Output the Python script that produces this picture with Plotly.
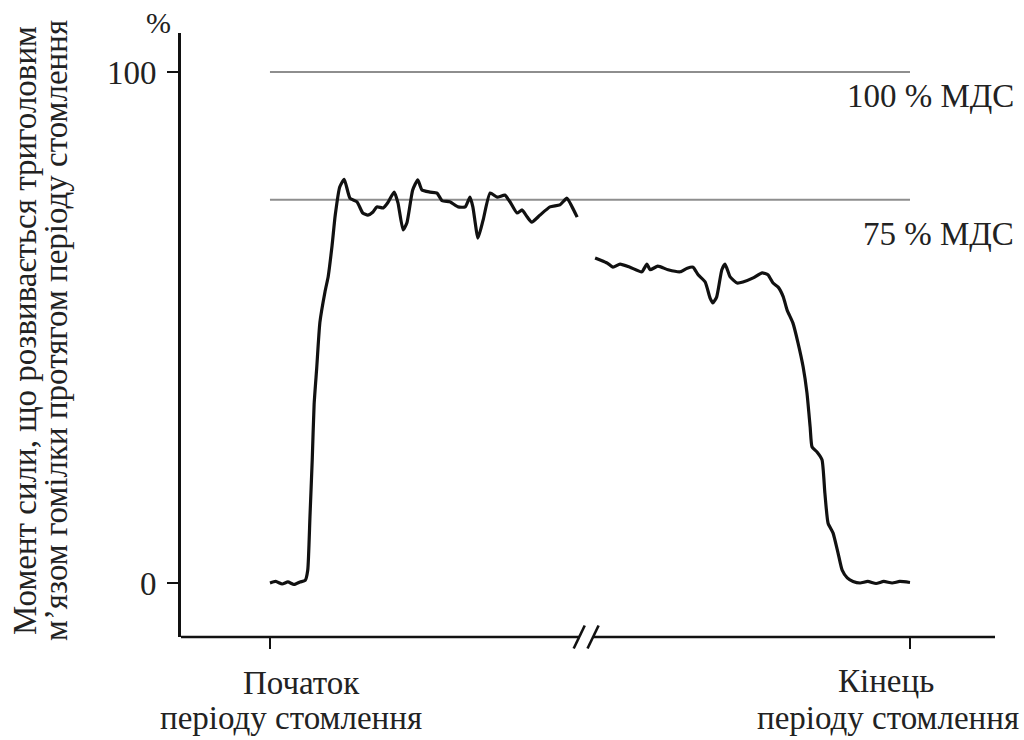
import plotly.graph_objects as go

# ---- data (time in arbitrary units: 0 = start, 100 = end of fatigue period; torque in % MVC)
t_start = [0.0, 0.9, 1.9, 2.8, 3.75, 4.7, 5.5, 5.9, 6.25, 6.6, 6.9, 7.3, 7.8, 8.6, 9.1, 9.7,
           10.2, 10.9, 11.6, 12.5, 13.6, 14.5, 15.3, 16.1, 16.7, 17.7, 18.4, 19.4, 20.0, 20.8,
           21.4, 22.3, 23.1, 23.75, 25.0, 26.1, 26.9, 28.1, 29.4, 30.5, 31.25, 31.7, 32.5, 33.3,
           34.4, 35.5, 36.7, 37.5, 38.6, 39.4, 40.2, 40.9, 42.2, 43.75, 45.3, 46.4, 47.2, 48.0]
f_start = [0.0, 0.3, -0.2, 0.2, -0.3, 0.2, 0.5, 2.5, 13, 24, 35, 42, 51, 57, 60, 66,
           72, 77.5, 79, 75.3, 74.6, 72.4, 72.0, 72.6, 73.6, 73.4, 74.4, 76.5, 74.4, 69.1,
           70.5, 76.9, 78.9, 76.9, 76.5, 76.3, 74.8, 74.6, 73.6, 73.6, 75.5, 73.6, 67.5, 71.0,
           76.3, 75.5, 75.9, 74.6, 72.4, 73.0, 71.6, 70.6, 72.0, 73.6, 74.0, 75.3, 73.6, 71.6]

t_end = [50.8, 51.6, 52.7, 53.6, 54.7, 56.25, 58.1, 58.9, 59.4, 60.6, 62.2, 64.1, 65.2, 66.1,
         66.9, 68.0, 68.75, 69.2, 69.8, 70.6, 71.1, 71.9, 73.0, 73.9, 75.5, 76.9, 77.8, 78.6,
         79.4, 80.2, 80.8, 81.7, 82.5, 83.3, 83.9, 84.4, 84.7, 85.5, 86.25, 86.7, 87.2, 87.97,
         88.75, 89.4, 90.2, 91.1, 92.2, 93.4, 94.7, 95.9, 97.2, 98.4, 100.0]
f_end = [63.6, 63.2, 62.6, 61.8, 62.4, 61.8, 60.9, 62.4, 61.3, 62.0, 61.3, 60.9, 61.6, 61.8,
         60.3, 58.9, 55.8, 54.8, 56.0, 61.3, 62.4, 59.9, 58.7, 58.9, 59.7, 60.7, 60.3, 58.7,
         57.9, 56.0, 53.4, 50.9, 47.0, 42.3, 37.2, 30.5, 26.6, 25.6, 24.1, 17.6, 11.7, 9.8,
         5.9, 2.5, 1.0, 0.3, 0.0, 0.3, -0.1, 0.3, 0.0, 0.3, 0.1]

ref_levels = [100, 75]
ref_labels = ["100 % МДС", "75 % МДС"]
ref_span = [0, 100]

y_ticks = [0, 100]
x_ticks = [0, 100]
x_label_start = ["Початок", "періоду стомлення"]
x_label_end = ["Кінець", "періоду стомлення"]
y_title = ["Момент сили, що розвивається триголовим",
           "м’язом гомілки протягом періоду стомлення"]

# ---- layout geometry
W, H = 1024, 740
ML, MR, MT, MB = 181, 29, 33, 103
XR = [-13.9, 113.28]
YR = [-10.57, 107.63]
FONT = "Liberation Serif, Times New Roman, serif"
FS = 33
TXT = "#222222"

def px_to_paper_x(px):
    return (px - ML) / (W - ML - MR)

def py_to_paper_y(py):
    return (H - MB - py) / (H - MT - MB)

def data_to_paper_x(x):
    return (x - XR[0]) / (XR[1] - XR[0])

fig = go.Figure()

for lvl in ref_levels:
    fig.add_trace(go.Scatter(x=ref_span, y=[lvl, lvl], mode="lines",
                             line=dict(color="#8e8e8e", width=2.2), hoverinfo="skip"))

fig.add_trace(go.Scatter(x=t_start, y=f_start, mode="lines",
                         line=dict(color="#111111", width=3.2, shape="spline", smoothing=0.5)))
fig.add_trace(go.Scatter(x=t_end, y=f_end, mode="lines",
                         line=dict(color="#111111", width=3.2, shape="spline", smoothing=0.5)))

# x axis line with break marks
brk = (t_start[-1] + t_end[0]) / 2
bx = data_to_paper_x(brk)
half_gap = 0.0085
sl_dx = 0.0068
sl_dy = 0.019
shapes = [
    dict(type="line", xref="paper", yref="paper", x0=0, x1=bx - half_gap, y0=0, y1=0,
         line=dict(color="#111111", width=2.6)),
    dict(type="line", xref="paper", yref="paper", x0=bx + half_gap, x1=1, y0=0, y1=0,
         line=dict(color="#111111", width=2.6)),
]
for c in (bx - half_gap, bx + half_gap):
    shapes.append(dict(type="line", xref="paper", yref="paper",
                       x0=c - sl_dx, x1=c + sl_dx, y0=-sl_dy, y1=sl_dy,
                       line=dict(color="#111111", width=2.6)))

annotations = []
# reference line labels
for txt, cy in [(ref_labels[0], 96), (ref_labels[1], 234)]:
    annotations.append(dict(text=txt, xref="paper", yref="paper",
                            x=px_to_paper_x(1016), y=py_to_paper_y(cy), xanchor="right", yanchor="middle",
                            showarrow=False, font=dict(family=FONT, size=FS, color=TXT)))
# percent sign
annotations.append(dict(text="%", xref="paper", yref="paper",
                        x=px_to_paper_x(158), y=py_to_paper_y(22), xanchor="center", yanchor="middle",
                        showarrow=False, font=dict(family=FONT, size=30, color=TXT)))
# x labels
for txt, cx, cy, anc in [(x_label_start[0], 301, 683, "center"), (x_label_start[1], 291, 718, "center"),
                         (x_label_end[0], 886, 681, "center"), (x_label_end[1], 1021, 718, "right")]:
    annotations.append(dict(text=txt, xref="paper", yref="paper",
                            x=px_to_paper_x(cx), y=py_to_paper_y(cy),
                            xanchor=anc, yanchor="middle", showarrow=False,
                            font=dict(family=FONT, size=FS, color=TXT)))
# y title (two rotated lines)
for txt, cx in [(y_title[0], 25), (y_title[1], 56)]:
    annotations.append(dict(text=txt, xref="paper", yref="paper",
                            x=px_to_paper_x(cx), y=py_to_paper_y(331),
                            xanchor="center", yanchor="middle", textangle=-90, showarrow=False,
                            font=dict(family=FONT, size=FS, color=TXT)))

fig.update_layout(
    width=W, height=H,
    margin=dict(l=ML, r=MR, t=MT, b=MB, pad=0),
    paper_bgcolor="white", plot_bgcolor="white",
    showlegend=False,
    shapes=shapes,
    annotations=annotations,
    xaxis=dict(range=XR, showgrid=False, zeroline=False, showline=False,
               tickvals=x_ticks, ticks="outside", ticklen=11, tickwidth=2.4, tickcolor="#111111",
               showticklabels=False, fixedrange=True),
    yaxis=dict(range=YR, showgrid=False, zeroline=False, showline=True,
               linecolor="#111111", linewidth=2.6,
               tickvals=y_ticks, ticktext=[str(v) for v in y_ticks],
               ticks="outside", ticklen=11, tickwidth=2.4, tickcolor="#111111",
               ticklabelstandoff=4,
               tickfont=dict(family=FONT, size=FS, color=TXT), fixedrange=True),
)

fig.write_html("out.html", config=dict(displayModeBar=False))
